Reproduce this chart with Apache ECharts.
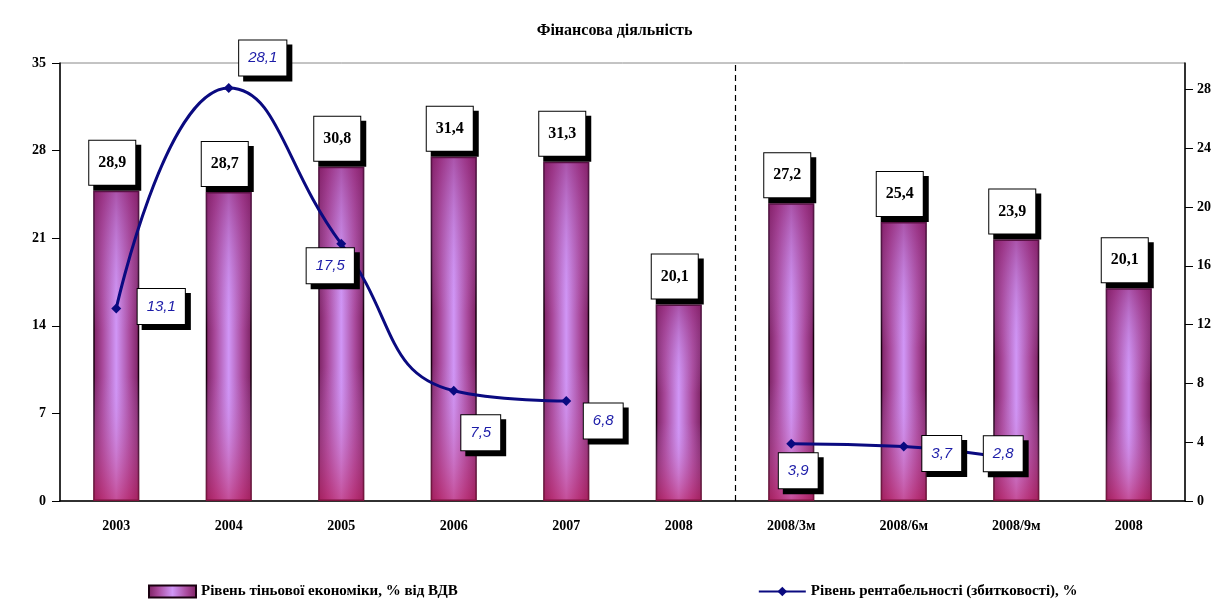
<!DOCTYPE html>
<html>
<head>
<meta charset="utf-8">
<script src="https://cdn.jsdelivr.net/npm/echarts@6/dist/echarts.min.js"></script>
<style>
  html, body { margin: 0; padding: 0; background: #fff; }
  #main { width: 1229px; height: 610px; }
</style>
</head>
<body>
<div id="main"></div>
<script>
// categories along the x axis
const categories = ["2003", "2004", "2005", "2006", "2007", "2008", "2008/3м", "2008/6м", "2008/9м", "2008"];

// bar heights as drawn (left axis) and the labels printed above them
const barValues = [24.8, 24.7, 26.7, 27.5, 27.1, 15.7, 23.8, 22.3, 20.9, 17.0];
const barLabels = ["28,9", "28,7", "30,8", "31,4", "31,3", "20,1", "27,2", "25,4", "23,9", "20,1"];

// profitability line (right axis), gaps where no value
const lineValues = [13.1, 28.1, 17.5, 7.5, 6.8, null, 3.9, 3.7, 2.8, null];

// tick labels of the right axis
const rightTicks = [0, 4, 8, 12, 16, 20, 24, 28];

// the dashed separator sits after this many categories
const separatorAfter = 6;

const barName = "Рівень тіньової економіки, % від ВДВ";
const lineName = "Рівень рентабельності (збитковості), %";

// where each line label sits, relative to its point
const lineLabelOffsets = [[45, -2], [34, -30], [-11, 22], [27, 42], [37, 20], [0, 0], [7, 27], [38, 7], [-13, -6], [0, 0]];

const serif = "Liberation Serif";

function drawChart() {
  var dom = document.getElementById("main");
  var myChart = echarts.init(dom, null, { renderer: "canvas" });

  let barData = [];
  for (let i = 0; i < barValues.length; i++) {
    barData.push({
      value: barValues[i],
      label: { formatter: barLabels[i] },
    });
  }

  let lineData = [];
  for (let i = 0; i < lineValues.length; i++) {
    if (lineValues[i] === null) {
      lineData.push(null);
      continue;
    }
    lineData.push({
      value: lineValues[i],
      label: { offset: lineLabelOffsets[i] },
    });
  }

  const axisText = { color: "#000", fontFamily: serif, fontWeight: "bold", fontSize: 14 };

  var option = {
    backgroundColor: "#fff",
    animation: false,
    title: {
      text: "Фінансова діяльність",
      left: "center",
      top: 18,
      textStyle: { fontFamily: serif, fontWeight: "bold", fontSize: 16, color: "#000" },
    },
    grid: {
      left: 60,
      right: 44,
      top: 63,
      bottom: 109,
      show: true,
      borderColor: "#888",
      borderWidth: 1,
    },
    legend: {
      bottom: 6,
      left: 143,
      itemGap: 300,
      itemWidth: 47,
      itemHeight: 12,
      data: [
        { name: barName, icon: "rect" },
        { name: lineName },
      ],
      textStyle: { fontFamily: serif, fontWeight: "bold", fontSize: 15, color: "#000" },
    },
    xAxis: [
      {
        type: "category",
        data: categories,
        axisLine: { lineStyle: { color: "#000", width: 1.5 } },
        axisTick: { length: 6, lineStyle: { color: "#000" } },
        axisLabel: Object.assign({ interval: 0, margin: 18 }, axisText),
        splitLine: { show: false },
      },
      {
        // helper axis used only to place the dashed separator
        type: "value",
        show: false,
        min: 0,
        max: categories.length,
      },
    ],
    yAxis: [
      {
        type: "value",
        min: 0,
        max: 35,
        interval: 7,
        axisLine: { show: true, lineStyle: { color: "#000", width: 1.5 } },
        axisTick: { show: true, length: 8, lineStyle: { color: "#000" } },
        axisLabel: Object.assign({ margin: 14 }, axisText),
        splitLine: { show: false },
      },
      {
        type: "value",
        min: 0,
        max: 29.8,
        interval: 4,
        axisLine: { show: true, lineStyle: { color: "#000", width: 1.5 } },
        axisTick: { show: true, length: 8, customValues: rightTicks, lineStyle: { color: "#000" } },
        axisLabel: Object.assign({ margin: 12, customValues: rightTicks }, axisText),
        splitLine: { show: false },
      },
    ],
    series: [
      {
        name: barName,
        type: "bar",
        yAxisIndex: 0,
        barWidth: 46,
        data: barData,
        itemStyle: {
          borderColor: "#1a0010",
          borderWidth: 1.5,
          color: new echarts.graphic.LinearGradient(0, 0, 1, 0, [
            { offset: 0, color: "#7a2060" },
            { offset: 0.2, color: "#a8489a" },
            { offset: 0.5, color: "#d096f6" },
            { offset: 0.8, color: "#a8489a" },
            { offset: 1, color: "#7a2060" },
          ]),
        },
        label: {
          show: true,
          position: "top",
          distance: 6,
          offset: [-4, 0],
          color: "#000",
          fontFamily: serif,
          fontWeight: "bold",
          fontSize: 16,
          backgroundColor: "#fff",
          borderColor: "#000",
          borderWidth: 1,
          padding: [14, 9],
          shadowColor: "#000",
          shadowBlur: 0,
          shadowOffsetX: 5,
          shadowOffsetY: 5,
        },
        z: 2,
      },
      {
        // vertical shading over the bars: magenta top, light middle, red bottom
        name: "shade",
        type: "bar",
        yAxisIndex: 0,
        barWidth: 46,
        barGap: "-100%",
        silent: true,
        data: barValues,
        itemStyle: {
          color: new echarts.graphic.LinearGradient(0, 0, 0, 1, [
            { offset: 0, color: "rgba(140,30,110,0.55)" },
            { offset: 0.45, color: "rgba(200,150,240,0)" },
            { offset: 0.6, color: "rgba(200,150,240,0)" },
            { offset: 1, color: "rgba(190,30,90,0.6)" },
          ]),
        },
        z: 3,
      },
      {
        name: lineName,
        type: "line",
        yAxisIndex: 1,
        data: lineData,
        smooth: 0.5,
        connectNulls: false,
        symbol: "diamond",
        symbolSize: 10,
        color: "#0a0a80",
        lineStyle: { width: 3, color: "#0a0a80" },
        itemStyle: { color: "#0a0a80" },
        label: {
          show: true,
          position: "inside",
          formatter: function (p) { return String(p.value).replace(".", ","); },
          color: "#1c1ca8",
          fontFamily: "Liberation Sans",
          fontStyle: "italic",
          fontSize: 15,
          backgroundColor: "#fff",
          borderColor: "#000",
          borderWidth: 1,
          padding: [10, 9],
          shadowColor: "#000",
          shadowBlur: 0,
          shadowOffsetX: 5,
          shadowOffsetY: 5,
        },
        z: 5,
      },
      {
        // dashed separator between yearly and 2008 quarterly data
        name: "separator",
        type: "line",
        xAxisIndex: 1,
        yAxisIndex: 0,
        data: [],
        silent: true,
        markLine: {
          symbol: "none",
          silent: true,
          label: { show: false },
          lineStyle: { color: "#000", type: [6, 4], width: 1.2 },
          data: [{ xAxis: separatorAfter }],
        },
      },
    ],
  };

  myChart.setOption(option);
  window.addEventListener("resize", myChart.resize);
}

drawChart();
</script>
</body>
</html>
